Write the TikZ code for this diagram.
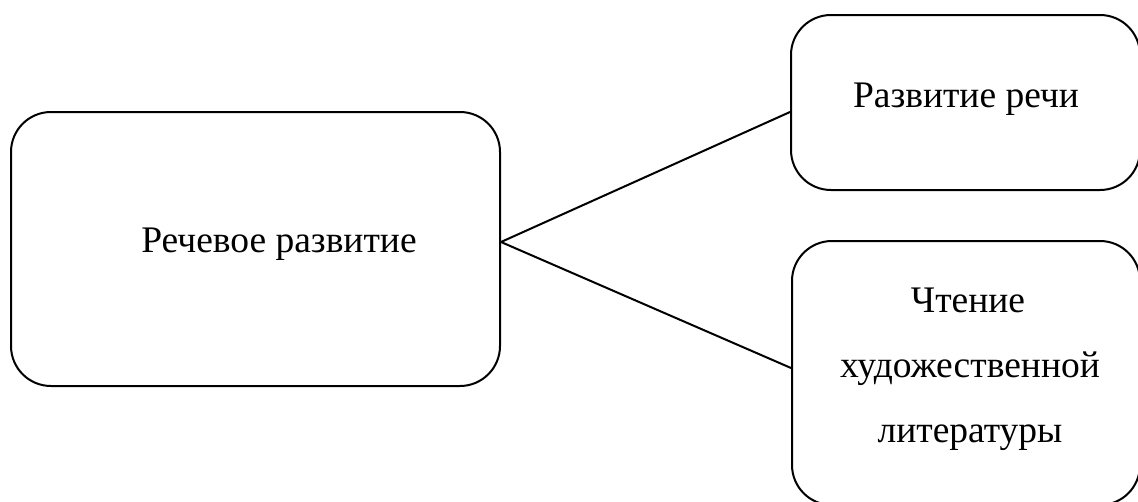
\documentclass[tikz,border=0pt]{standalone}
\usepackage{fontspec}
\setmainfont{Liberation Serif}
\begin{document}
\begin{tikzpicture}[x=1pt,y=-1pt,
  box/.style={draw=black, line width=2pt, rounded corners=40pt, inner sep=0pt},
  lbl/.style={font=\fontsize{37.5}{45}\selectfont, inner sep=0pt, anchor=base},
  conn/.style={draw=black, line width=2pt}]
\useasboundingbox (0,0) rectangle (1138,501);
\clip (0,0) rectangle (1138,501);
\fill[white] (0,0) rectangle (1138,501);
\node[box, minimum width=489pt, minimum height=274pt] (lb) at (255.5,249) {};
\node[box, minimum width=349pt, minimum height=175pt] (tr) at (965.5,102.5) {};
\node[box, minimum width=348pt, minimum height=264pt] (br) at (966,373) {};
\node[lbl] (lt) at (279,252) {Речевое развитие};
\node[lbl] (tt) at (966,107) {Развитие речи};
\node[lbl] (b1) at (968,312) {Чтение};
\node[lbl] (b2) at (970,377) {художественной};
\node[lbl] (b3) at (970,442) {литературы};
\coordinate (j) at ([yshift=7pt]lb.east);
\draw[conn] (j) -- ([yshift=-9.5pt]tr.west);
\draw[conn] (j) -- ([yshift=5pt]br.west);
\end{tikzpicture}
\end{document}
